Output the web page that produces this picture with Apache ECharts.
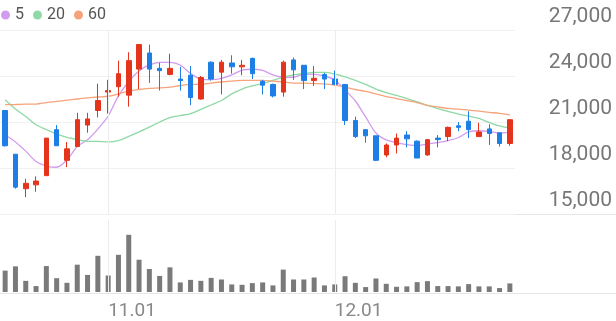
<!DOCTYPE html>
<html><head><meta charset="utf-8">
<script src="https://cdn.jsdelivr.net/npm/echarts@6/dist/echarts.min.js"></script>
<style>html,body{margin:0;padding:0;background:#fff}#c{width:616px;height:321px}</style>
</head><body><div id="c"></div>
<script>
const dates = ['10.18','10.19','10.20','10.23','10.24','10.25','10.26','10.27','10.30','10.31',
'11.01','11.02','11.03','11.06','11.07','11.08','11.09','11.10','11.13','11.14','11.15','11.16','11.17','11.20','11.21','11.22','11.23','11.24','11.27','11.28','11.29','11.30',
'12.01','12.04','12.05','12.06','12.07','12.08','12.11','12.12','12.13','12.14','12.15','12.18','12.19','12.20','12.21','12.22','12.26','12.27'];
const opens  = [21750,18900,16650,16900,17500,20500,18500,19400,20800,21750,22950,23300,22750,24450,25500,24500,24100,23800,24050,22500,24900,24250,24850,24600,25150,23650,23450,22950,25050,24700,23700,24100,23800,23450,21100,20500,20100,18850,19500,20150,19750,18850,19950,20050,20750,21050,20050,20550,20300,19600];
const closes = [19450,16750,17000,17150,19950,19450,19250,21150,21200,22400,23050,24150,25000,26050,24450,24350,24500,23700,22600,23900,23800,24900,24600,24700,24150,23400,22700,24900,24400,23700,23850,23800,23450,21100,20050,20100,18500,19500,19950,19900,18650,19850,19850,20650,20650,20500,20350,20250,19600,21150];
const lows   = [19400,16650,16100,16450,17500,19450,18050,19400,20300,21300,21550,22650,22000,23150,23550,23050,24050,23050,22100,22450,23700,22800,24150,24050,23800,22800,22600,22650,23750,23150,23350,23150,23400,20800,19950,19650,18450,18700,18950,19350,18650,18800,19350,19750,20400,19950,20050,19500,19400,19450];
const highs  = [21750,18900,17300,17450,19950,20800,19700,21600,21600,23500,23750,25000,25550,26050,26050,24850,25450,24600,24650,24000,24950,25050,25350,25050,25200,23750,23500,25000,25200,24700,24650,24200,24350,23450,21350,20500,20100,19600,20250,20400,19800,19850,20150,20700,21000,21700,20950,20850,20300,21150];
const volumes = [217000,260000,113000,60000,263000,140000,93000,277000,173000,367000,167000,377000,580000,327000,233000,163000,250000,97000,123000,113000,143000,127000,77000,73000,90000,97000,67000,227000,127000,127000,147000,67000,77000,160000,93000,50000,137000,83000,53000,57000,100000,110000,60000,60000,57000,80000,57000,57000,40000,87000];
const ma5  = [20150,19700,19100,18420,18130,18050,18520,19400,19850,20540,21390,22700,23640,24330,24720,24890,24890,24720,24160,23800,23760,23840,24070,24390,24440,24360,24070,23920,23920,24130,24100,24000,23740,23090,22370,21330,20280,19830,19660,19530,19470,19570,19660,19790,19990,20350,20430,20380,20280,20330];
const ma20 = [22450,21850,21360,20820,20510,20220,19990,19850,19740,19730,19700,19790,20060,20350,20670,21000,21290,21420,21550,21820,22110,22400,22830,23150,23350,23510,23710,23920,24070,24160,24230,24230,24120,23940,23720,23450,23150,22920,22730,22530,22310,22080,21870,21690,21520,21390,21230,20970,20740,20610];
const ma60 = [22130,22140,22160,22170,22270,22340,22420,22500,22570,22630,22680,22830,23020,23120,23190,23220,23270,23380,23450,23450,23540,23610,23670,23710,23720,23720,23670,23610,23540,23540,23510,23480,23410,23280,23120,22990,22830,22660,22530,22400,22270,22080,21980,21890,21840,21770,21710,21630,21560,21460];
const yTicks = [15000, 27000, 3000];
const monthMarks = ['11.01','12.01'];

const RED = '#e5341c', BLUE = '#1d7fe6';
const candles = opens.map((o,i)=>[o, closes[i], lows[i], highs[i]]);
const chart = echarts.init(document.getElementById('c'), null, {renderer:'canvas'});
const vline = {symbol:'none', silent:true, animation:false, label:{show:false},
  lineStyle:{color:'#ececec', width:1, type:'solid'}, data: monthMarks.map(m=>({xAxis:m}))};
chart.setOption({
  animation:false,
  textStyle:{fontFamily:'Roboto'},
  legend:{left:1, top:7, padding:0, itemWidth:9, itemHeight:9, itemGap:9, icon:'circle',
    textStyle:{fontSize:16, color:'#555', fontFamily:'Roboto'}, data:['5','20','60']},
  grid:[{left:0, top:30, width:515, height:184},{left:0, top:220, width:515, height:73}],
  xAxis:[
    {type:'category', gridIndex:0, data:dates, boundaryGap:true, axisLine:{show:false}, axisTick:{show:false}, axisLabel:{show:false}, splitLine:{show:false}},
    {type:'category', gridIndex:1, data:dates, boundaryGap:true, axisLine:{show:false}, axisTick:{show:false}, splitLine:{show:false},
     axisLabel:{show:true, interval:(i,v)=>monthMarks.includes(v), align:'left', margin:10, fontSize:19, color:'#888', fontFamily:'Roboto'}}
  ],
  yAxis:[
    {type:'value', gridIndex:0, position:'right', min:yTicks[0], max:yTicks[1], interval:yTicks[2],
     axisLine:{show:false}, axisTick:{show:false},
     splitLine:{show:true, lineStyle:{color:'#f1f1f1', width:1}},
     axisLabel:{show:true, align:'right', verticalAlign:'bottom', margin:97, padding:[0,0,3,0], fontSize:21, color:'#777', fontFamily:'Roboto',
       formatter:v=>v.toLocaleString('en-US')}},
    {type:'value', gridIndex:1, min:0, max:730000, show:false, splitLine:{show:false}}
  ],
  graphic:[
    {type:'line', shape:{x1:0,y1:214.5,x2:616,y2:214.5}, style:{stroke:'#e6e6e6', lineWidth:1}, silent:true, z:0},
    {type:'line', shape:{x1:0,y1:293.5,x2:616,y2:293.5}, style:{stroke:'#e6e6e6', lineWidth:1}, silent:true, z:0}
  ],
  series:[
    {name:'5', type:'line', xAxisIndex:0, yAxisIndex:0, data:ma5, showSymbol:false, smooth:0.3, lineStyle:{width:1.3, color:'#d29bf0'}, itemStyle:{color:'#d29bf0'}, markLine:vline, z:2},
    {name:'20', type:'line', xAxisIndex:0, yAxisIndex:0, data:ma20, showSymbol:false, smooth:0.3, lineStyle:{width:1.3, color:'#8fd9a6'}, itemStyle:{color:'#8fd9a6'}, z:2},
    {name:'60', type:'line', xAxisIndex:0, yAxisIndex:0, data:ma60, showSymbol:false, smooth:0.3, lineStyle:{width:1.3, color:'#f6a37c'}, itemStyle:{color:'#f6a37c'}, z:2},
    {name:'price', type:'candlestick', xAxisIndex:0, yAxisIndex:0, data:candles, barWidth:5,
     itemStyle:{color:RED, color0:BLUE, borderColor:RED, borderColor0:BLUE, borderWidth:1}, z:3},
    {name:'vol', type:'bar', xAxisIndex:1, yAxisIndex:1, data:volumes, barWidth:5, itemStyle:{color:'#7a7a7a'}, markLine:vline, z:3}
  ]
});
</script></body></html>
